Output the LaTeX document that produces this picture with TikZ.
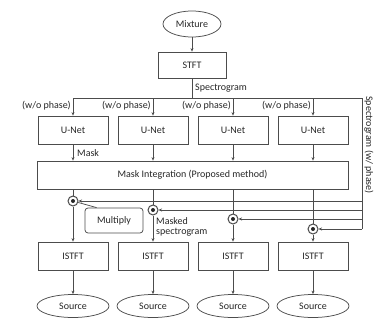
\documentclass[tikz,border=0pt]{standalone}
\usepackage{fontspec}
\setmainfont{Carlito}
\usetikzlibrary{arrows.meta,shapes.geometric}
\begin{document}
\begin{tikzpicture}[x=1pt,y=-1pt,
  every node/.style={text=black!85,font=\fontsize{10}{10}\selectfont},
  line/.style={draw=black!70,line width=0.75pt},
  arr/.style={line,-{Stealth[length=3.5pt,width=3pt]}},
  boxn/.style={line,rectangle,minimum width=70pt,minimum height=28pt,inner sep=0pt},
  ell/.style={line,ellipse,minimum width=72pt,minimum height=23pt,inner sep=0pt},
  mult/.style={line,circle,minimum size=10pt,inner sep=0pt,line width=1pt,fill=white,
    path picture={\fill[black!85] (path picture bounding box.center) circle (2pt);}},
  lbl/.style={inner sep=1pt}]
\useasboundingbox (0,0) rectangle (377,321);
% nodes
\node[ell,minimum width=58pt,minimum height=26pt] (mix) at (192,24) {Mixture};
\node[boxn,minimum width=68pt,minimum height=26pt] (stft) at (192,65) {STFT};
\foreach \i/\x in {1/73,2/153,3/233,4/313}{
  \node[boxn] (u\i) at (\x,130) {U-Net};
  \node[boxn] (i\i) at (\x,256) {ISTFT};
  \node[ell] (s\i) at (\x,306) {Source};
  \node[lbl,anchor=east] (w\i) at (\x-1,106) {(w/o phase)};
}
\node[boxn,minimum width=311pt] (mi) at (192.5,175) {Mask Integration (Proposed method)};
\node[mult] (m1) at (73,201) {};
\node[mult] (m2) at (153,210) {};
\node[mult] (m3) at (233,219) {};
\node[mult] (m4) at (313,229) {};
\node[line,rectangle,rounded corners=3pt,minimum width=58pt,minimum height=25pt,inner sep=0pt] (mul) at (114,220.5) {Multiply};
\node[lbl,anchor=west] (spl) at (194,88) {Spectrogram};
\node[lbl,anchor=west] (mk) at (76,153) {Mask};
\node[lbl,anchor=north west,align=left] (ms) at (155,216) {Masked\\spectrogram};
\node[lbl,rotate=-90,anchor=west] (swp) at (369,95) {Spectrogram (w/ phase)};
\coordinate (bL) at (73,98);
\coordinate (bR) at (362,98);
\coordinate (bB) at (362,229);
% connectors
\draw[arr] (mix) -- (stft);
\draw[line] (stft) -- (stft.south |- bL);
\draw[line] (bL) -- (bR) -- (bB);
\draw[arr] (m1 -| bR) -- (m1);
\draw[arr] (m2 -| bR) -- (m2);
\draw[arr] (m3 -| bR) -- (m3);
\draw[arr] (bB) -- (m4);
\foreach \i in {1,2,3,4}{
  \draw[arr] (u\i.north |- bL) -- (u\i);
  \draw[arr] (u\i) -- (u\i |- mi.north);
  \draw[line] (u\i |- mi.south) -- (m\i);
  \draw[arr] (m\i) -- (i\i);
  \draw[arr] (i\i) -- (s\i);
}
\draw[line] (m1) -- ([xshift=12pt]mul.north west);
\end{tikzpicture}
\end{document}
